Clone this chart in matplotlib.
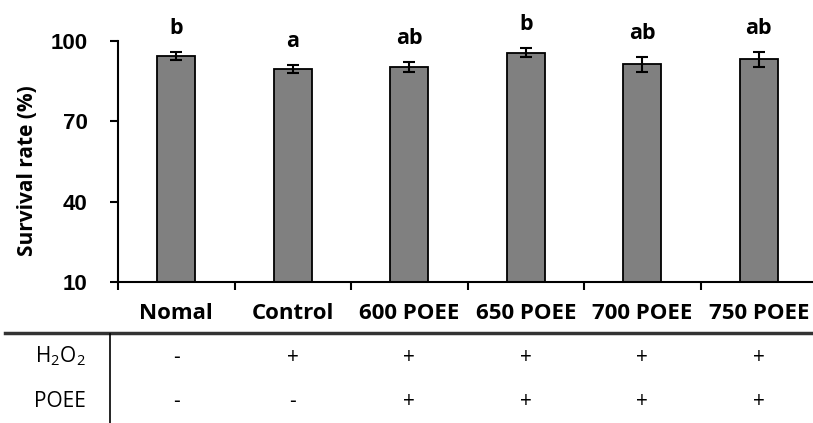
import matplotlib
matplotlib.use("Agg")
import matplotlib.pyplot as plt
from matplotlib.lines import Line2D
import matplotlib.transforms as mtransforms

categories = ["Nomal", "Control", "600 POEE", "650 POEE", "700 POEE", "750 POEE"]
survival = [94.4, 89.6, 90.4, 95.7, 91.3, 93.2]
errors = [1.5, 1.6, 1.9, 1.5, 2.8, 2.8]
letters = ["b", "a", "ab", "b", "ab", "ab"]
h2o2_signs = ["-", "+", "+", "+", "+", "+"]
poee_signs = ["-", "-", "+", "+", "+", "+"]
yticks = [10, 40, 70, 100]

plt.rcParams['mathtext.fontset'] = 'custom'
plt.rcParams['mathtext.rm'] = 'Open Sans'
plt.rcParams['mathtext.it'] = 'Open Sans'

W, H = 813, 423
fig = plt.figure(figsize=(W / 100, H / 100), dpi=100)
left_px, right_px, top_px, bottom_px = 118, 817, 41, 282
ax = fig.add_axes([left_px / W, 1 - bottom_px / H, (right_px - left_px) / W, (bottom_px - top_px) / H])

x = list(range(len(categories)))
ax.bar(x, [v - 10 for v in survival], bottom=10, width=0.33, color="#808080",
       edgecolor="black", linewidth=1.3, zorder=2)
ax.errorbar(x, survival, yerr=errors, fmt="none", ecolor="black", elinewidth=1.5,
            capsize=4, capthick=1.5, zorder=3)

for xi, v, e, lab in zip(x, survival, errors, letters):
    ax.annotate(lab, xy=(xi, v + e), xytext=(0, 13), textcoords="offset points",
                ha="center", va="baseline", fontsize=15.5, fontweight="bold",
                family="Open Sans", annotation_clip=False)

ax.set_xlim(-0.5, len(categories) - 0.5)
ax.set_ylim(10, 100)
ax.set_yticks(yticks)
ax.set_yticklabels([str(t) for t in yticks], fontsize=16, fontweight="bold", family="Liberation Sans")
ax.set_xticks([i - 0.5 for i in range(len(categories) + 1)])
ax.set_xticklabels([])
ax.tick_params(axis="both", direction="out", length=6, width=1.5, color="black")
ax.tick_params(axis="y", pad=16)
for s in ["top", "right"]:
    ax.spines[s].set_visible(False)
for s in ["left", "bottom"]:
    ax.spines[s].set_linewidth(1.5)

ax.set_ylabel("Survival rate (%)", fontsize=15, fontweight="bold", family="Open Sans")
ax.yaxis.set_label_coords((38 - left_px) / (right_px - left_px), 0.463)

# category labels below axis
blend = mtransforms.blended_transform_factory(ax.transData, fig.transFigure)
for xi, c in zip(x, categories):
    ax.text(xi, 1 - 313.5 / H, c, transform=blend, ha="center", va="center",
            fontsize=16, fontweight="bold", family="Open Sans")

# table lines
fig.add_artist(Line2D([5 / W, 1.0], [1 - 333 / H, 1 - 333 / H], transform=fig.transFigure,
                      color="#333333", linewidth=2.5))
fig.add_artist(Line2D([110 / W, 110 / W], [1 - 334 / H, 0], transform=fig.transFigure,
                      color="black", linewidth=1.2))

fig.text(60 / W, 1 - 356 / H, "H$_2$O$_2$", ha="center", va="center", fontsize=15, family="Open Sans")
fig.text(60 / W, 1 - 401 / H, "POEE", ha="center", va="center", fontsize=15, family="Open Sans")
for xi, s1, s2 in zip(x, h2o2_signs, poee_signs):
    ax.text(xi, 1 - 357 / H, s1, transform=blend, ha="center", va="center", fontsize=15, family="Open Sans")
    ax.text(xi, 1 - 401 / H, s2, transform=blend, ha="center", va="center", fontsize=15, family="Open Sans")

fig.savefig("out.png", dpi=100)
